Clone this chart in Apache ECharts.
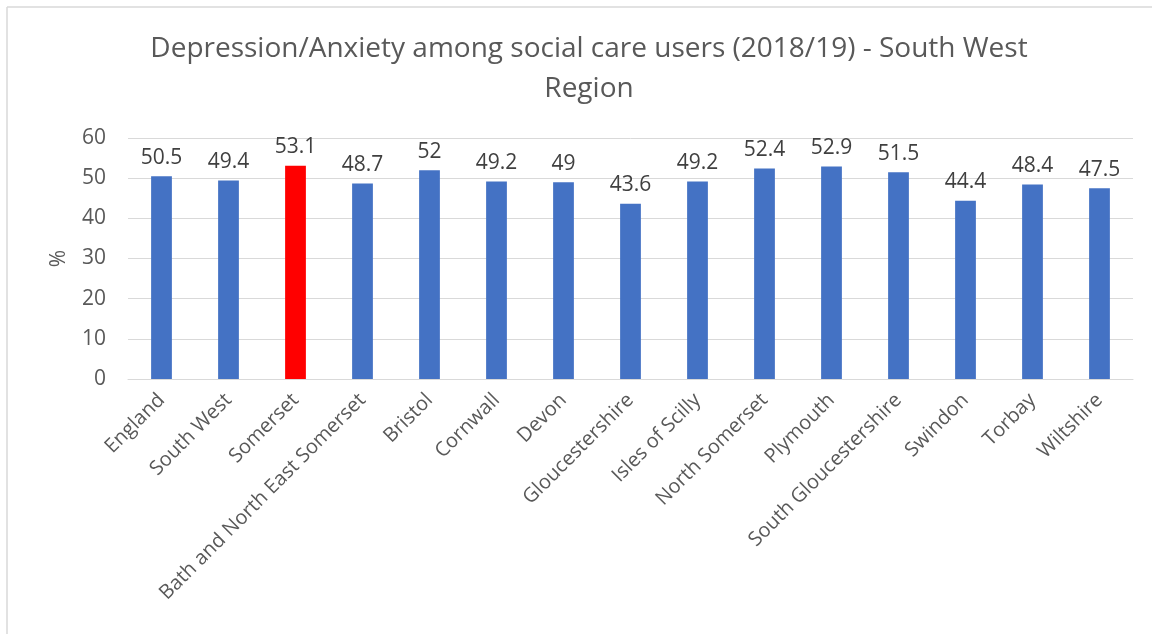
<!DOCTYPE html>
<html>
<head>
<meta charset="utf-8">
<script src="https://cdn.jsdelivr.net/npm/echarts@6/dist/echarts.min.js"></script>
<style>
html,body{margin:0;padding:0;background:#fff;}
#c{width:1152px;height:634px;}
</style>
</head>
<body>
<div id="c"></div>
<script>
const categories = ["England","South West","Somerset","Bath and North East Somerset","Bristol","Cornwall","Devon","Gloucestershire","Isles of Scilly","North Somerset","Plymouth","South Gloucestershire","Swindon","Torbay","Wiltshire"];
const values = [50.5,49.4,53.1,48.7,52,49.2,49,43.6,49.2,52.4,52.9,51.5,44.4,48.4,47.5];
const highlight = "Somerset";
const yTicks = {min:0, max:60, interval:10};

const FONT = "'Open Sans', 'Noto Sans', sans-serif";
const chart = echarts.init(document.getElementById('c'));
chart.setOption({
  animation:false,
  backgroundColor:'#fff',
  title:{
    text:'Depression/Anxiety among social care users (2018/19) - South West\nRegion',
    left:584, top:24, textAlign:'center',
    textStyle:{fontFamily:FONT, fontSize:28, fontWeight:'normal', color:'#595959', lineHeight:40}
  },
  graphic:[
    {type:'line', shape:{x1:7,y1:7,x2:1152,y2:7}, style:{stroke:'#d9d9d9', lineWidth:1.5}},
    {type:'line', shape:{x1:7,y1:7,x2:7,y2:634}, style:{stroke:'#d9d9d9', lineWidth:1.5}}
  ],
  grid:{left:128, right:19, top:138, bottom:255},
  xAxis:{
    type:'category', data:categories,
    axisLine:{lineStyle:{color:'#d9d9d9'}},
    axisTick:{show:false},
    axisLabel:{rotate:45, interval:0, fontFamily:FONT, fontSize:20, color:'#595959', margin:18}
  },
  yAxis:{
    type:'value', min:yTicks.min, max:yTicks.max, interval:yTicks.interval,
    name:'%', nameLocation:'middle', nameGap:58, nameRotate:90,
    nameTextStyle:{fontFamily:FONT, fontSize:21, color:'#595959'},
    axisLine:{show:false}, axisTick:{show:false},
    axisLabel:{fontFamily:FONT, fontSize:21, color:'#595959', margin:22},
    splitLine:{lineStyle:{color:'#d9d9d9', width:1}}
  },
  series:[{
    type:'bar',
    data:values.map((v,i)=>({value:v, itemStyle:{color: categories[i]===highlight ? '#ff0000' : '#4472c4'}})),
    barWidth:'31%',
    label:{show:true, position:'top', distance:8, fontFamily:FONT, fontSize:21, color:'#404040'}
  }]
});
</script>
</body>
</html>
